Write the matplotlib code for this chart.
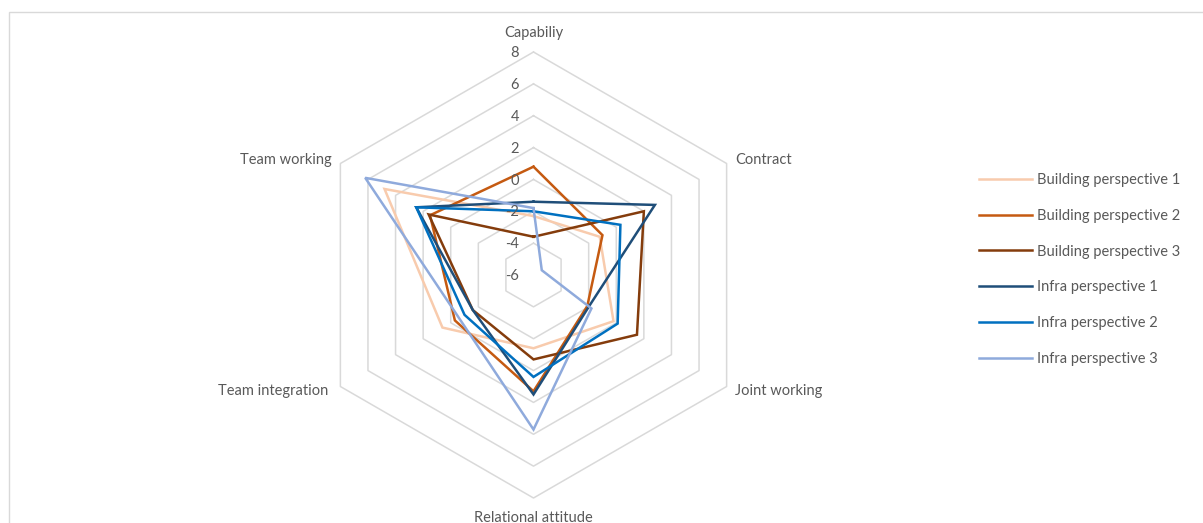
import numpy as np
import matplotlib
matplotlib.use("Agg")
import matplotlib.pyplot as plt
from matplotlib.patches import Rectangle

# ---- data -------------------------------------------------------------
categories = ["Capabiliy", "Contract", "Joint working",
              "Relational attitude", "Team integration", "Team working"]

series_names = ["Building perspective 1", "Building perspective 2",
                "Building perspective 3", "Infra perspective 1",
                "Infra perspective 2", "Infra perspective 3"]

building_1 = [-2.3, -1.2, -0.2, -1.4, 0.6, 4.8]
building_2 = [0.8, -1.0, -2.1, 1.3, -0.3, 1.5]
building_3 = [-3.6, 2.0, 1.5, -0.7, -1.6, 1.6]
infra_1 = [-1.4, 2.8, -2.0, 1.5, -1.6, 2.5]
infra_2 = [-2.0, 0.3, 0.1, 0.4, -1.0, 2.5]
infra_3 = [-1.8, -5.4, -1.8, 3.7, -0.6, 6.2]

series_values = [building_1, building_2, building_3, infra_1, infra_2, infra_3]
series_colors = ["#F8CBAD", "#C55A11", "#843C0C", "#1F4E79", "#0070C0", "#8FAADC"]

r_ticks = [-6, -4, -2, 0, 2, 4, 6, 8]

# ---- style ------------------------------------------------------------
plt.rcParams["font.family"] = ["Lato", "DejaVu Sans"]
text_color = "#595959"
grid_color = "#D9D9D9"
fs = 10.5

W, H = 1203, 523
fig = plt.figure(figsize=(W / 100, H / 100), dpi=100)

# chart-area border (runs off the right and bottom edges)
fig.patches.append(Rectangle((8.5 / W, -0.2), 1.3, 1.2 - 11.5 / H,
                             transform=fig.transFigure, fill=False,
                             edgecolor="#D9D9D9", lw=1.0))

# polar axes centred at the hexagon centre
cx, cy, rad = 533.5, 275.0, 223.0
ax = fig.add_axes([(cx - rad) / W, (H - cy - rad) / H, 2 * rad / W, 2 * rad / H],
                  projection="polar")
ax.set_theta_zero_location("N")
ax.set_theta_direction(-1)
ax.set_ylim(r_ticks[0], r_ticks[-1])
ax.grid(False)
ax.spines["polar"].set_visible(False)
ax.set_xticks([])
ax.set_yticks([])
ax.patch.set_alpha(0)

n = len(categories)
theta = np.linspace(0, 2 * np.pi, n, endpoint=False)
theta_closed = np.append(theta, theta[0])

# hexagonal gridlines
for v in r_ticks[1:]:
    ax.plot(theta_closed, [v] * (n + 1), color=grid_color, lw=1.1,
            zorder=1, clip_on=False)

# series
for name, vals, col in zip(series_names, series_values, series_colors):
    ax.plot(theta_closed, list(vals) + [vals[0]], color=col, lw=1.8,
            label=name, zorder=3, clip_on=False, solid_joinstyle="miter")

# radial value labels along the top spoke
for v in r_ticks:
    ax.annotate(str(v), xy=(0, v), xytext=(-10.5, -0.8), textcoords="offset points",
                ha="right", va="center", fontsize=fs, color=text_color,
                annotation_clip=False)

# category labels around the outer ring
label_offsets = [(0, 13.8, "center"), (6, 2.8, "left"), (6, -3.3, "left"),
                 (0, -14.6, "center"), (-8.5, -3.3, "right"), (-6, 2.8, "right")]
for t, cat, (dx, dy, ha) in zip(theta, categories, label_offsets):
    ax.annotate(cat, xy=(t, r_ticks[-1]), xytext=(dx, dy),
                textcoords="offset points", ha=ha, va="center",
                fontsize=fs, color=text_color, annotation_clip=False)

leg = fig.legend(loc="center left", bbox_to_anchor=(979 / W, (H - 269.5) / H),
                 frameon=False, fontsize=fs, handlelength=3.6,
                 handletextpad=0.4, labelspacing=1.5, borderpad=0,
                 borderaxespad=0)
for txt in leg.get_texts():
    txt.set_color(text_color)

fig.savefig("out.png", dpi=100)
